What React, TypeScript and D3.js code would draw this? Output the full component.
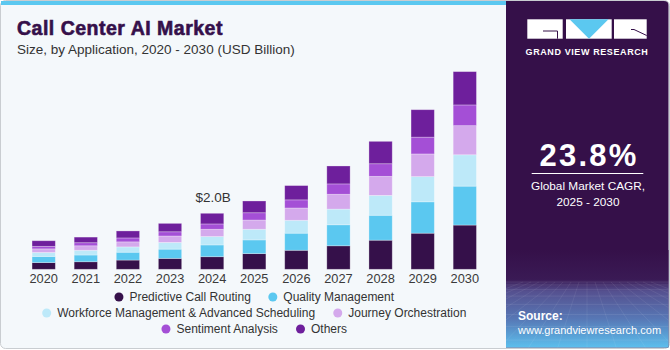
import React from "react";
import * as d3 from "d3";

const years = ["2020","2021","2022","2023","2024","2025","2026","2027","2028","2029","2030"];
const seriesNames = [
  "Predictive Call Routing",
  "Quality Management",
  "Workforce Management & Advanced Scheduling",
  "Journey Orchestration",
  "Sentiment Analysis",
  "Others",
];
const predictiveCallRouting = [0.24, 0.27, 0.33, 0.39, 0.45, 0.56, 0.68, 0.84, 1.04, 1.29, 1.58];
const qualityManagement     = [0.22, 0.24, 0.28, 0.33, 0.42, 0.49, 0.61, 0.75, 0.89, 1.12, 1.39];
const workforceManagement   = [0.14, 0.17, 0.19, 0.24, 0.30, 0.38, 0.46, 0.56, 0.71, 0.90, 1.12];
const journeyOrchestration  = [0.13, 0.16, 0.18, 0.23, 0.26, 0.33, 0.44, 0.53, 0.68, 0.81, 1.04];
const sentimentAnalysis     = [0.09, 0.11, 0.14, 0.15, 0.19, 0.26, 0.29, 0.37, 0.45, 0.60, 0.74];
const others                = [0.20, 0.20, 0.25, 0.30, 0.38, 0.42, 0.51, 0.64, 0.80, 0.98, 1.19];
const seriesValues = [predictiveCallRouting, qualityManagement, workforceManagement, journeyOrchestration, sentimentAnalysis, others];
const colors = ["#35104A", "#5BC8F0", "#BDE9F9", "#D4A9EC", "#A44FD6", "#6E1F9C"];
const annotationYear = "2024";
const annotationText = "$2.0B";
const legendRows = [[0, 1], [2, 3], [4, 5]];

const FONT = "'Liberation Sans', Arial, sans-serif";

function measure(text: string, size: number) {
  if (typeof document === "undefined") return text.length * size * 0.5;
  const c = (measure as any).c || ((measure as any).c = document.createElement("canvas"));
  const ctx = c.getContext("2d");
  ctx.font = `${size}px 'Liberation Sans', Arial, sans-serif`;
  return ctx.measureText(text).width;
}

export default function App() {
  const W = 670, H = 350;
  const baseY = 269.3;
  const x = d3.scaleBand<string>().domain(years).range([32.05, 476.45]).paddingInner(0.447).paddingOuter(0);
  const y = d3.scaleLinear().domain([0, 7.5]).range([baseY, baseY - 7.5 * 28]);

  const table = years.map((yr, i) => {
    const row: any = { year: yr };
    seriesNames.forEach((s, j) => (row[s] = seriesValues[j][i]));
    return row;
  });
  const stacked = d3.stack<any>().keys(seriesNames)(table);

  const legendCenter = 254;
  const legendFont = 12;
  const legendY = [297, 313, 329];

  const panelX = 506;

  return (
    <svg width={W} height={H} style={{ position: "absolute", left: 0, top: 0 }} fontFamily={FONT}>
      <defs>
        <linearGradient id="panelGrad" gradientUnits="userSpaceOnUse" x1="0" y1="250" x2="0" y2="348">
          <stop offset="0" stopColor="#351049" />
          <stop offset="0.3" stopColor="#3a1a55" />
          <stop offset="0.42" stopColor="#55508f" />
          <stop offset="0.7" stopColor="#5777b5" />
          <stop offset="1" stopColor="#5cc0ee" />
        </linearGradient>
        <clipPath id="panelClip">
          <path d={`M${panelX},1 H664 Q668.5,1 668.5,5 V347.5 H${panelX} Z`} />
        </clipPath>
      </defs>
      {/* frame */}
      <rect x={0.5} y={0.5} width={669} height={348} rx={5} fill="#F4F8FB" stroke="#c9cdd1" />
      <rect x={1} y={1} width={panelX - 1} height={4} fill="#5BC8F0" />
      {/* right panel */}
      <g clipPath="url(#panelClip)">
        <rect x={panelX} y={0} width={170} height={350} fill="#351049" />
        <rect x={panelX} y={250} width={170} height={100} fill="url(#panelGrad)" />
        {d3.range(0, 9).map((k) => (
          <line key={"h" + k} x1={panelX} x2={670} y1={282 + k * k * 0.9 + k * 2} y2={282 + k * k * 0.9 + k * 2}
            stroke="#ffffff" strokeOpacity={0.08} />
        ))}
        {d3.range(-8, 9).map((k) => (
          <line key={"v" + k} x1={587 + k * 8} y1={282} x2={587 + k * 30} y2={350}
            stroke="#ffffff" strokeOpacity={0.07} />
        ))}
      </g>
      {/* logo */}
      <rect x={527.3} y={19.3} width={35.4} height={19.4} fill="#ffffff" />
      <path d="M543,31 H557.5 V38.7" fill="none" stroke="#351049" strokeWidth={1} />
      <rect x={566} y={19.3} width={45.7} height={19.4} fill="#ffffff" />
      <path d="M569.5,19.3 H608.5 L589,38.7 Z" fill="#5BC8F0" />
      <rect x={614} y={19.3} width={32.7} height={19.4} fill="#ffffff" />
      <path d="M631,29.5 H634 L646.7,35.5" fill="none" stroke="#351049" strokeWidth={1} />
      <text x={587} y={54.5} textAnchor="middle" fill="#ffffff" fontSize={9} fontWeight="bold" letterSpacing={0.6}>GRAND VIEW RESEARCH</text>
      <text x={589} y={165.5} textAnchor="middle" fill="#ffffff" fontSize={31} fontWeight="bold" letterSpacing={2.2}>23.8%</text>
      <line x1={531.7} x2={643.3} y1={173.5} y2={173.5} stroke="#ffffff" strokeWidth={1} />
      <text x={588} y={190} textAnchor="middle" fill="#ffffff" fontSize={11.8}>Global Market CAGR,</text>
      <text x={588} y={206} textAnchor="middle" fill="#ffffff" fontSize={11.8}>2025 - 2030</text>
      <text x={518} y={320} fill="#ffffff" fontSize={12} fontWeight="bold">Source:</text>
      <text x={518} y={333.5} fill="#ffffff" fontSize={11}>www.grandviewresearch.com</text>

      {/* titles */}
      <text x={17} y={35} fill="#35104A" fontSize={19.5} fontWeight="bold" letterSpacing={0.5} stroke="#35104A" strokeWidth={0.6}>Call Center AI Market</text>
      <text x={17} y={54.3} fill="#333333" fontSize={13.5}>Size, by Application, 2020 - 2030 (USD Billion)</text>

      {/* bars */}
      {stacked.map((layer, j) => (
        <g key={layer.key} fill={colors[j]}>
          {layer.map((d, i) => (
            <rect key={i} x={x(years[i])!} y={y(d[1])} width={x.bandwidth()} height={y(d[0]) - y(d[1])}
              stroke="#ffffff" strokeOpacity={0.35} strokeWidth={0.8} />
          ))}
        </g>
      ))}
      {/* x labels */}
      {years.map((yr) => (
        <text key={yr} x={x(yr)! + x.bandwidth() / 2} y={283} textAnchor="middle" fontSize={12.8} fill="#3a3a3a">{yr}</text>
      ))}
      {/* annotation */}
      <text x={x(annotationYear)! + x.bandwidth() / 2 + 1} y={201.5} textAnchor="middle" fontSize={13.5} fill="#333333">{annotationText}</text>

      {/* legend */}
      {legendRows.map((row, r) => {
        const gap = 22.5;
        const widths = row.map((j) => 10 + measure(seriesNames[j], legendFont));
        const total = d3.sum(widths) + gap * (row.length - 1) + 4.5;
        let cx = legendCenter - total / 2 + 4.5;
        return (
          <g key={r}>
            {row.map((j, k) => {
              const px = cx;
              cx += widths[k] + gap;
              return (
                <g key={j}>
                  <circle cx={px} cy={legendY[r]} r={4.5} fill={colors[j]} />
                  <text x={px + 10.5} y={legendY[r] + 4.2} fontSize={legendFont} fill="#333333">{seriesNames[j]}</text>
                </g>
              );
            })}
          </g>
        );
      })}
    </svg>
  );
}
